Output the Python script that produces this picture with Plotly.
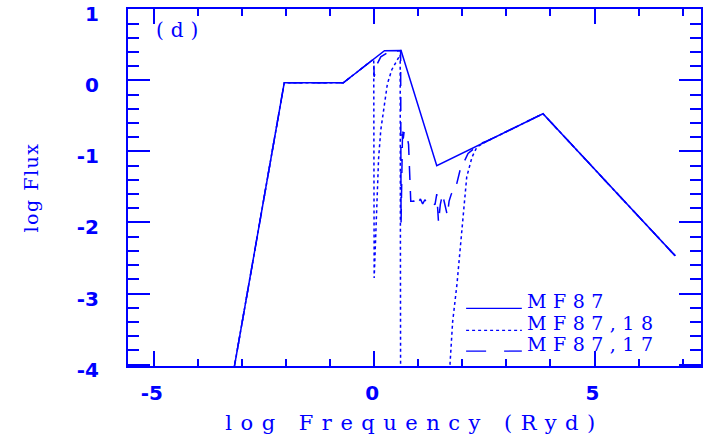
import plotly.graph_objects as go

BLUE = "#0000ff"

# ---- data (log Frequency [Ryd], log Flux) ----
mf87_x = [-3.30, -2.04, -0.70, 0.234, 0.61, 1.42, 3.83, 6.83]
mf87_y = [-4.48, -0.034, -0.034, 0.417, 0.42, -1.20, -0.47, -2.47]

mf87_18_x = [-3.30, -2.04, -0.70, -0.01, 0.00, 0.05, 0.10, 0.15, 0.21, 0.30, 0.40, 0.48, 0.55, 0.59, 0.60,
             1.62, 1.72, 1.78, 1.88, 1.99, 2.06, 2.10, 2.22, 2.33, 2.55, 3.83, 6.83]
mf87_18_y = [-4.48, -0.034, -0.034, 0.30, -2.78, -1.90, -1.10, -0.70, -0.42, -0.05, 0.15, 0.24, 0.32, 0.36, -4.50,
             -4.30, -4.00, -3.40, -2.86, -2.15, -1.69, -1.36, -1.08, -0.94, -0.86, -0.47, -2.47]

mf87_17_x = [-3.30, -2.04, -0.70, -0.01, 0.00, 0.06, 0.15, 0.30, 0.45, 0.60, 0.61, 0.63, 0.645, 0.66, 0.68,
             0.71, 0.75, 0.78, 0.80, 0.83, 0.90, 0.95, 1.00, 1.05, 1.10, 1.15, 1.20, 1.30, 1.38, 1.42,
             1.46, 1.50, 1.55, 1.60, 1.66, 1.70, 1.75, 1.84, 1.95, 2.13, 2.40, 2.55, 3.83, 6.83]
mf87_17_y = [-4.48, -0.034, -0.034, 0.30, 0.05, 0.22, 0.33, 0.39, 0.41, 0.42, -2.00, -0.84, -0.66, -0.82, -0.72,
             -0.78, -0.80, -0.90, -1.35, -1.70, -1.70, -1.65, -1.72, -1.67, -1.74, -1.68, -1.73, -1.70, -1.75, -1.60,
             -2.00, -1.75, -1.60, -1.75, -1.90, -1.70, -1.60, -1.54, -1.26, -1.03, -0.89, -0.857, -0.47, -2.47]

legend_names = ["MF87", "MF87,18", "MF87,17"]
x_tickvals = [-5, 0, 5]
x_ticktext = ["-5", "0", "5"]
y_tickvals = [1, 0, -1, -2, -3, -4]
y_ticktext = ["1", "0", "-1", "-2", "-3", "-4"]

fig = go.Figure()
line_w = 1.5
fig.add_trace(go.Scatter(x=mf87_x, y=mf87_y, mode="lines",
                         line=dict(color=BLUE, width=line_w), name=legend_names[0]))
fig.add_trace(go.Scatter(x=mf87_18_x, y=mf87_18_y, mode="lines",
                         line=dict(color=BLUE, width=line_w, dash="dot"), name=legend_names[1]))
fig.add_trace(go.Scatter(x=mf87_17_x, y=mf87_17_y, mode="lines",
                         line=dict(color=BLUE, width=line_w, dash="14px,11px"), name=legend_names[2]))

# hand-drawn legend (line samples ending at the text, text baseline on the line)
leg_y = [-3.21, -3.52, -3.81]
leg_dash = ["solid", "dot", "20px,18px"]
for name, yy, d in zip(legend_names, leg_y, leg_dash):
    fig.add_shape(type="line", xref="x", yref="y", x0=2.086, x1=3.35, y0=yy, y1=yy,
                  line=dict(color=BLUE, width=1.3, dash=d))
    fig.add_annotation(x=3.43, y=yy, xref="x", yref="y", xanchor="left", yanchor="bottom",
                       yshift=-6, showarrow=False,
                       text='<span style="letter-spacing:6.5px">' + name + '</span>',
                       font=dict(family="DejaVu Serif", size=19, color=BLUE))

fig.add_annotation(x=0.045, y=0.94, xref="paper", yref="paper", xanchor="left", yanchor="middle",
                   showarrow=False, text='<span style="letter-spacing:7px">(d)</span>',
                   font=dict(family="DejaVu Serif", size=20, color=BLUE))

tickfont = dict(family="DejaVu Sans", size=20, color=BLUE, weight="bold")

fig.update_layout(
    width=708, height=441,
    margin=dict(l=128, r=7, t=9, b=75, autoexpand=False),
    paper_bgcolor="white", plot_bgcolor="white",
    showlegend=False,
    xaxis=dict(range=[-5.585, 7.415], showgrid=False, zeroline=False,
               showline=True, linecolor=BLUE, linewidth=2, mirror="ticks",
               ticks="inside", ticklen=15, tickwidth=1.5, tickcolor=BLUE,
               tickvals=x_tickvals, ticktext=x_ticktext, tickfont=tickfont,
               ticklabelstandoff=8, ticklabelshift=-2,
               minor=dict(dtick=1, tick0=0, ticks="inside", ticklen=7, tickwidth=1.5, tickcolor=BLUE, showgrid=False),
               title=dict(text='<span style="letter-spacing:8.5px">log Frequency (Ryd)</span>',
                          font=dict(family="DejaVu Serif", size=21, color=BLUE), standoff=11)),
    yaxis=dict(range=[-4.02, 1.004], showgrid=False, zeroline=False,
               showline=True, linecolor=BLUE, linewidth=2, mirror="ticks",
               ticks="inside", ticklen=22, tickwidth=1.5, tickcolor=BLUE,
               tickvals=y_tickvals, ticktext=y_ticktext, tickfont=tickfont,
               ticklabelstandoff=23, ticklabelshift=5,
               minor=dict(dtick=0.2, tick0=0, ticks="inside", ticklen=11, tickwidth=1.5, tickcolor=BLUE, showgrid=False),
               title=dict(text='<span style="letter-spacing:1.5px">log Flux</span>',
                          font=dict(family="DejaVu Serif", size=19, color=BLUE), standoff=33)),
)

post = """
document.body.style.margin = '0';
document.body.style.padding = '0';
var gd = document.getElementById('{plot_id}');
Plotly.relayout(gd, {width: 708, height: 441});
"""

fig.write_html("out.html", post_script=post, config={"responsive": False, "displayModeBar": False})
